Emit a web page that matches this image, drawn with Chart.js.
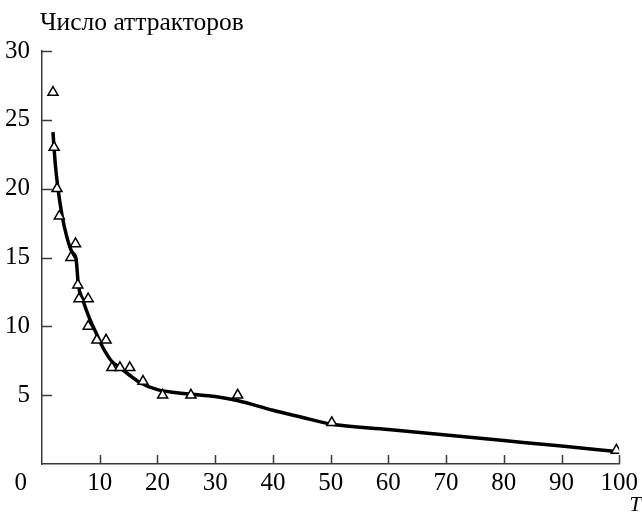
<!DOCTYPE html>
<html>
<head>
<meta charset="utf-8">
<script src="https://cdn.jsdelivr.net/npm/chart.js@4/dist/chart.umd.min.js"></script>
<style>
  html, body { margin: 0; padding: 0; background: #fff; }
  #wrap { width: 642px; height: 515px; }
</style>
</head>
<body>
<div id="wrap"><canvas id="thechart" width="642" height="515"></canvas></div>
<script>
// measured points (triangles)
var pointT = [1.9, 2.1, 2.6, 3.0, 5.8, 5.0, 6.2, 6.4, 8.0, 8.0, 9.5, 11.1, 12.1, 13.5, 15.2, 17.5, 20.9, 25.8, 33.9, 50.2, 99.5];
var pointN = [27, 23, 20, 18, 16, 15, 13, 12, 12, 10, 9, 9, 7, 7, 7, 6, 5, 5, 5, 3, 1];

// fitted curve
var curveT = [1.9, 2.3, 2.8, 3.5, 4.3, 5.2, 5.9, 6.3, 7.0, 8.3, 9.5, 10.5, 12, 13.5, 15, 17, 20, 25, 30, 34, 40, 45, 50, 60, 70, 80, 90, 99.5];
var curveN = [24.1, 21.8, 19.9, 18.0, 16.5, 15.4, 14.9, 13.0, 12.0, 10.5, 9.4, 8.5, 7.5, 7.0, 6.5, 5.9, 5.4, 5.1, 4.9, 4.6, 3.9, 3.4, 2.9, 2.5, 2.1, 1.7, 1.3, 0.9];

var yTitle = 'Число аттракторов';
var xTitle = 'T';
var axisColor = '#3a3a3a';
var serif = '"Liberation Serif", "DejaVu Serif", serif';

function makeXY(xs, ys) {
  var out = [];
  for (var i = 0; i < xs.length; i++) {
    out.push({ x: xs[i], y: ys[i] });
  }
  return out;
}

// axis titles and inward tick marks
var axisExtras = {
  id: 'axisExtras',
  afterDraw: function (chart) {
    var ctx = chart.ctx;
    var area = chart.chartArea;
    var xs = chart.scales.x;
    var ys = chart.scales.y;
    ctx.save();
    ctx.strokeStyle = axisColor;
    ctx.lineWidth = 1.5;
    ctx.beginPath();
    xs.ticks.forEach(function (t) {
      if (t.value === 0) return;
      var px = Math.round(xs.getPixelForValue(t.value)) + 0.5;
      ctx.moveTo(px, area.bottom);
      ctx.lineTo(px, area.bottom - 9);
    });
    ys.ticks.forEach(function (t) {
      if (t.value === 0) return;
      var py = Math.round(ys.getPixelForValue(t.value)) + 0.5;
      ctx.moveTo(area.left, py);
      ctx.lineTo(area.left + 10, py);
    });
    ctx.stroke();

    ctx.fillStyle = '#000';
    ctx.textBaseline = 'alphabetic';
    ctx.textAlign = 'left';
    ctx.font = '25.5px ' + serif;
    ctx.fillText(yTitle, area.left - 2, 30);
    ctx.font = 'italic 22px ' + serif;
    ctx.fillText(xTitle, area.right + 10, 511);
    ctx.restore();
  }
};

var theChart = new Chart(document.getElementById('thechart').getContext('2d'), {
  type: 'scatter',
  data: {
    datasets: [
      {
        label: 'curve',
        data: makeXY(curveT, curveN),
        showLine: true,
        borderColor: '#000',
        borderWidth: 3.5,
        pointRadius: 0,
        cubicInterpolationMode: 'monotone',
        order: 2
      },
      {
        label: 'points',
        data: makeXY(pointT, pointN),
        showLine: false,
        pointStyle: 'triangle',
        pointRadius: 5.8,
        pointBorderWidth: 1.5,
        pointBorderColor: '#000',
        pointBackgroundColor: '#fff',
        order: 1
      }
    ]
  },
  plugins: [axisExtras],
  options: {
    responsive: false,
    animation: false,
    layout: { padding: { left: 5, right: 22, top: 51, bottom: 13 } },
    plugins: {
      legend: { display: false },
      tooltip: { enabled: false }
    },
    scales: {
      x: {
        type: 'linear',
        min: 0,
        max: 100,
        afterFit: function (scale) { scale.paddingLeft = 0; },
        ticks: {
          stepSize: 10,
          padding: 4,
          autoSkip: false,
          color: '#000',
          font: { family: serif, size: 25 },
          maxRotation: 0,
          callback: function (v) { return v === 0 ? '0\u2003\u2002\u2009' : String(v); }
        },
        grid: { drawOnChartArea: false, drawTicks: false },
        border: { color: axisColor, width: 1.5 }
      },
      y: {
        min: 0,
        max: 30,
        afterFit: function (scale) { scale.width = 37; },
        ticks: {
          stepSize: 5,
          padding: 12,
          color: '#000',
          font: { family: serif, size: 25 },
          callback: function (v) { return v === 0 ? '' : String(v); }
        },
        grid: { drawOnChartArea: false, drawTicks: false },
        border: { color: axisColor, width: 1.5 }
      }
    }
  }
});
</script>
</body>
</html>
